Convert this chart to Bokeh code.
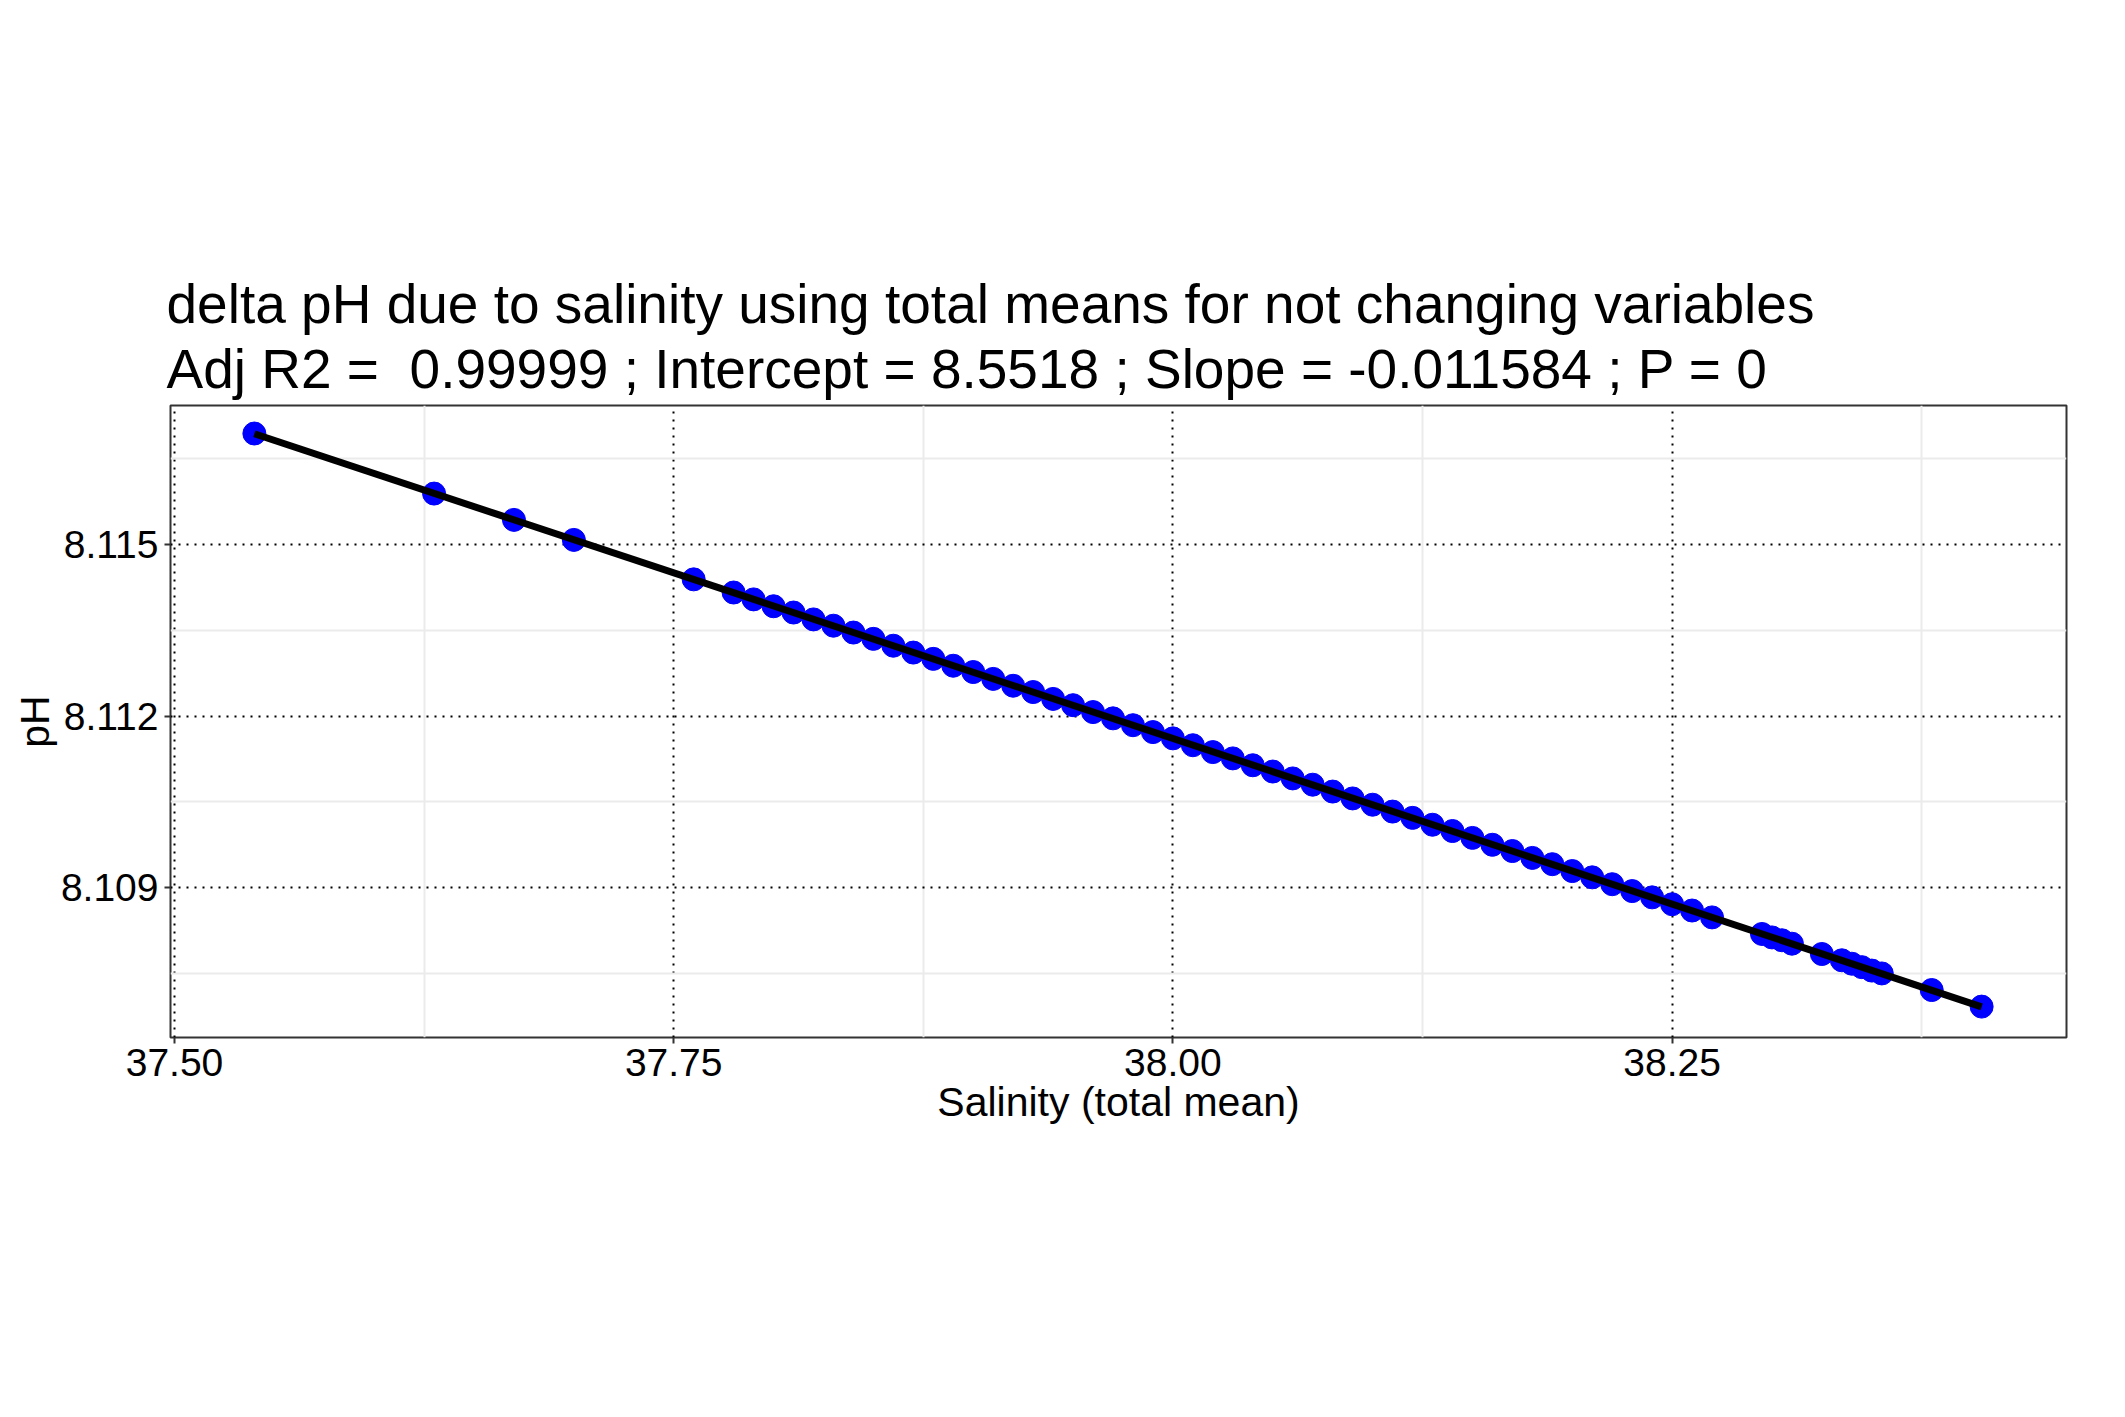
from bokeh.plotting import figure
from bokeh.models import FixedTicker, NumeralTickFormatter, Range1d
from bokeh.embed import file_html
from bokeh.resources import INLINE

# valores
salinidade = [37.54, 37.63, 37.67, 37.70, 37.76, 37.78, 37.79, 37.80, 37.81, 37.82,
              37.83, 37.84, 37.85, 37.86, 37.87, 37.88, 37.89, 37.90, 37.91, 37.92,
              37.93, 37.94, 37.95, 37.96, 37.97, 37.98, 37.99, 38.00, 38.01, 38.02,
              38.03, 38.04, 38.05, 38.06, 38.07, 38.08, 38.09, 38.10, 38.11, 38.12,
              38.13, 38.14, 38.15, 38.16, 38.17, 38.18, 38.19, 38.20, 38.21, 38.22,
              38.23, 38.24, 38.25, 38.26, 38.27, 38.295, 38.30, 38.305, 38.31, 38.325,
              38.335, 38.34, 38.345, 38.35, 38.355, 38.38, 38.405]
ph = [8.11694, 8.11589, 8.11543, 8.11508, 8.11439, 8.11416, 8.11404, 8.11392, 8.11381, 8.11369,
      8.11358, 8.11346, 8.11335, 8.11323, 8.11311, 8.11300, 8.11288, 8.11277, 8.11265, 8.11253,
      8.11242, 8.11230, 8.11219, 8.11207, 8.11196, 8.11184, 8.11172, 8.11161, 8.11149, 8.11137,
      8.11126, 8.11114, 8.11103, 8.11091, 8.11080, 8.11068, 8.11056, 8.11045, 8.11033, 8.11022,
      8.11010, 8.10999, 8.10987, 8.10975, 8.10964, 8.10952, 8.10941, 8.10929, 8.10918, 8.10906,
      8.10894, 8.10883, 8.10871, 8.10860, 8.10848, 8.10819, 8.10813, 8.10808, 8.10802, 8.10784,
      8.10773, 8.10767, 8.10761, 8.10755, 8.10750, 8.10721, 8.10692]
intercepto = 8.5518
inclinacao = -0.011584
x_ticks = [37.50, 37.75, 38.00, 38.25]
x_minor = [37.625, 37.875, 38.125, 38.375]
y_ticks = [8.109, 8.112, 8.115]
y_minor = [8.1075, 8.1105, 8.1135, 8.1165]

fonte = "Liberation Sans"

p = figure(width=2100, height=1400, output_backend="svg", toolbar_location=None,
           x_range=Range1d(37.498, 38.4475), y_range=Range1d(8.10638, 8.11743),
           min_border_left=170, min_border_right=34, min_border_top=405, min_border_bottom=363,
           title="delta pH due to salinity using total means for not changing variables\n"
                 "Adj R2 =\u00a0 0.99999 ; Intercept = 8.5518 ; Slope = -0.011584 ; P = 0")
p.title.text_font = fonte
p.title.text_font_size = "55px"
p.title.text_font_style = "normal"
p.title.text_color = "black"
p.title.text_line_height = 1.05
p.title.offset = -4

p.outline_line_color = "#333333"
p.outline_line_width = 2

p.xaxis.ticker = FixedTicker(ticks=x_ticks, minor_ticks=x_minor)
p.yaxis.ticker = FixedTicker(ticks=y_ticks, minor_ticks=y_minor)
p.xaxis.formatter = NumeralTickFormatter(format="0.00")
p.yaxis.formatter = NumeralTickFormatter(format="0.000")
p.xaxis.axis_label = "Salinity (total mean)"
p.yaxis.axis_label = "pH"
for eixo in (p.xaxis, p.yaxis):
    eixo.axis_line_color = None
    eixo.minor_tick_line_color = None
    eixo.major_tick_line_color = "#333333"
    eixo.major_tick_line_width = 2
    eixo.major_tick_in = 0
    eixo.major_tick_out = 6
    eixo.major_label_text_font = fonte
    eixo.major_label_text_font_size = "39px"
    eixo.major_label_text_color = "black"
    eixo.axis_label_text_font = fonte
    eixo.axis_label_text_font_size = "41px"
    eixo.axis_label_text_font_style = "normal"
    eixo.axis_label_text_color = "black"
    eixo.axis_label_standoff = 0
p.yaxis.major_label_standoff = 6

for grade in (p.xgrid, p.ygrid):
    grade.grid_line_color = "black"
    grade.grid_line_dash = "2 6"
    grade.grid_line_width = 2
    grade.minor_grid_line_color = "#ebebeb"
    grade.minor_grid_line_width = 2

p.scatter(salinidade, ph, size=23, color="blue")
x_fit = [min(salinidade), max(salinidade)]
y_fit = [intercepto + inclinacao * s for s in x_fit]
p.line(x_fit, y_fit, line_width=7, color="black")

open("out.html", "w").write(file_html(p, INLINE))
